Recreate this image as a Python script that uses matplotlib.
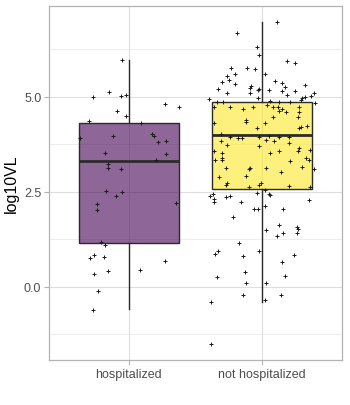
import matplotlib
matplotlib.use("Agg")
import matplotlib.pyplot as plt
from matplotlib.ticker import FixedLocator
import numpy as np

plt.rcParams['font.family'] = ['Liberation Sans', 'DejaVu Sans']

categories = ["hospitalized", "not hospitalized"]
fill_colors = ["#440154", "#FDE725"]

# box statistics: whisker low, Q1, median, Q3, whisker high
whisker_low = [-0.59, -0.40]
q1 = [1.16, 2.58]
median = [3.31, 3.99]
q3 = [4.32, 4.87]
whisker_high = [5.96, 6.97]

# jittered observations: horizontal jitter offset and log10VL value
hosp_jitter = [-0.05, -0.15, -0.27, -0.06, -0.02, -0.09, -0.02, 0.27, 0.38, -0.30,
               0.09, -0.37, -0.12, 0.17, 0.19, 0.22, 0.28, -0.18, 0.28, 0.20,
               -0.16, -0.16, -0.06, -0.17, -0.05, -0.10, -0.24, -0.24, 0.35, -0.21,
               -0.18, -0.29, -0.26, -0.19, 0.27, -0.26, -0.16, 0.08, -0.23, -0.27]
hosp_vl = [5.96, 5.13, 5.00, 5.03, 5.04, 4.63, 4.50, 4.82, 4.72, 4.36,
           4.32, 3.92, 3.96, 4.01, 3.96, 3.82, 3.84, 3.51, 3.50, 3.33,
           3.22, 3.14, 3.11, 2.53, 2.50, 2.39, 2.18, 2.03, 2.21, 1.18,
           1.11, 0.76, 0.83, 0.79, 0.68, 0.34, 0.42, 0.45, -0.11, -0.61]

nothosp_jitter = [0.11, -0.19, -0.04, -0.02, 0.19, 0.25, -0.23, -0.11, -0.05, -0.20,
                  0.02, -0.26, -0.25, -0.30, -0.20, 0.10, 0.15, 0.32, -0.08, -0.09,
                  0.17, -0.33, -0.02, -0.03, 0.05, -0.09, -0.26, 0.15, 0.25, 0.19,
                  0.39, 0.37, 0.32, 0.30, 0.29, -0.40, -0.03, 0.06, 0.13, 0.21,
                  0.40, -0.34, -0.29, -0.24, -0.14, -0.07, 0.04, 0.08, 0.12, 0.13,
                  0.15, 0.18, 0.28, 0.28, 0.27, -0.36, -0.36, -0.12, -0.12, 0.02,
                  0.08, -0.04, 0.29, 0.28, 0.34, -0.31, -0.24, -0.18, -0.15, -0.02,
                  0.05, 0.13, 0.20, 0.03, 0.09, -0.31, -0.26, -0.36, -0.30, -0.30,
                  -0.30, -0.35, -0.27, -0.32, -0.26, -0.27, -0.02, 0.06, 0.13, 0.20,
                  0.28, 0.27, 0.36, 0.33, 0.35, 0.21, -0.09, -0.10, 0.03, 0.30,
                  0.39, -0.12, 0.14, -0.10, -0.01, -0.02, 0.20, 0.36, -0.37, -0.39,
                  -0.36, -0.36, -0.27, -0.24, -0.16, -0.04, 0.02, 0.05, 0.06, 0.35,
                  -0.06, -0.03, 0.02, 0.16, -0.22, 0.13, 0.03, 0.16, 0.11, 0.26,
                  0.27, 0.26, -0.17, -0.02, -0.33, -0.35, -0.14, 0.24, 0.15, -0.13,
                  -0.34, 0.17, -0.12, 0.03, -0.14, 0.14, 0.02, -0.38, -0.38]
nothosp_vl = [6.97, 6.68, 6.32, 6.11, 5.95, 5.89, 5.76, 5.76, 5.74, 5.61,
              5.61, 5.54, 5.45, 5.38, 5.34, 5.42, 5.37, 5.32, 5.28, 5.24,
              5.25, 5.21, 5.21, 5.17, 5.18, 5.11, 5.11, 5.16, 5.16, 5.04,
              5.11, 5.02, 4.99, 4.96, 4.92, 4.95, 4.97, 4.88, 4.87, 4.87,
              4.85, 4.86, 4.86, 4.74, 4.68, 4.72, 4.79, 4.74, 4.72, 4.63,
              4.67, 4.61, 4.74, 4.61, 4.47, 4.72, 4.32, 4.38, 4.34, 4.30,
              4.47, 4.18, 4.21, 4.17, 4.24, 4.01, 3.95, 3.91, 3.93, 3.95,
              3.96, 3.95, 3.95, 3.86, 3.84, 3.84, 3.73, 3.58, 3.53, 3.39,
              3.35, 3.35, 3.14, 2.88, 2.74, 2.67, 3.71, 3.53, 3.58, 3.79,
              3.66, 3.58, 3.61, 3.38, 3.35, 3.32, 3.13, 3.09, 3.14, 3.16,
              3.11, 2.92, 3.01, 2.63, 2.72, 2.69, 2.66, 2.63, 2.45, 2.39,
              2.31, 2.24, 2.37, 2.39, 2.24, 2.47, 2.54, 2.44, 2.42, 2.28,
              2.05, 2.05, 2.13, 2.05, 1.83, 1.63, 1.49, 1.42, 1.34, 1.57,
              1.53, 1.42, 1.16, 0.95, 0.95, 0.87, 0.81, 0.83, 0.66, 0.39,
              0.26, 0.29, 0.09, 0.09, -0.22, -0.22, -0.34, -0.40, -1.50]

y_label = "log10VL"
y_ticks = [0.0, 2.5, 5.0]

fig = plt.figure(figsize=(3.5, 4.06), dpi=100)
ax = fig.add_axes([0.140, 0.111, 0.837, 0.872])

positions = np.arange(1, len(categories) + 1)
jitters = [hosp_jitter, nothosp_jitter]
values = [hosp_vl, nothosp_vl]

stats = []
for i, cat in enumerate(categories):
    stats.append(dict(label=cat, whislo=whisker_low[i], q1=q1[i], med=median[i],
                      q3=q3[i], whishi=whisker_high[i], fliers=[]))

bp = ax.bxp(stats, positions=positions, widths=0.75, patch_artist=True,
            showcaps=False, showfliers=False,
            boxprops=dict(edgecolor='#2b2b2b', linewidth=1.0),
            medianprops=dict(color='#2b2b2b', linewidth=2.0),
            whiskerprops=dict(color='#2b2b2b', linewidth=1.0),
            zorder=2)
for patch, col in zip(bp['boxes'], fill_colors):
    patch.set_facecolor(matplotlib.colors.to_rgba(col, 0.6))
    patch.set_edgecolor('#2b2b2b')

# points on top of the boxes
for pos, jit, vals in zip(positions, jitters, values):
    ax.scatter(pos + np.array(jit), vals, marker='+', s=6, linewidths=0.7,
               color='#1a1a1a', zorder=4)

# scales
all_vals = np.concatenate([hosp_vl, nothosp_vl])
lo, hi = all_vals.min(), all_vals.max()
pad = 0.05 * (hi - lo)
ax.set_ylim(lo - pad, hi + pad)
ax.set_xlim(0.4, len(categories) + 0.6)

ax.yaxis.set_major_locator(FixedLocator(y_ticks))
ax.yaxis.set_minor_locator(FixedLocator([-1.25, 1.25, 3.75, 6.25]))
ax.set_yticklabels([f"{t:.1f}" for t in y_ticks])
ax.set_xticks(positions)
ax.set_xticklabels(categories)

ax.grid(True, which='major', color='#DEDEDE', linewidth=0.8, zorder=0)
ax.grid(True, which='minor', axis='y', color='#E6E6E6', linewidth=0.5, zorder=0)
ax.set_axisbelow(True)

for sp in ax.spines.values():
    sp.set_color('#B3B3B3')
    sp.set_linewidth(0.9)

ax.tick_params(axis='both', which='major', colors='#B3B3B3', length=3.5, width=0.8,
               labelcolor='#4D4D4D', labelsize=9, pad=2)
ax.tick_params(axis='y', which='minor', length=0)
ax.set_ylabel(y_label, fontsize=11.5, color='black', labelpad=4)

fig.savefig("out.png", dpi=100, facecolor='white')
